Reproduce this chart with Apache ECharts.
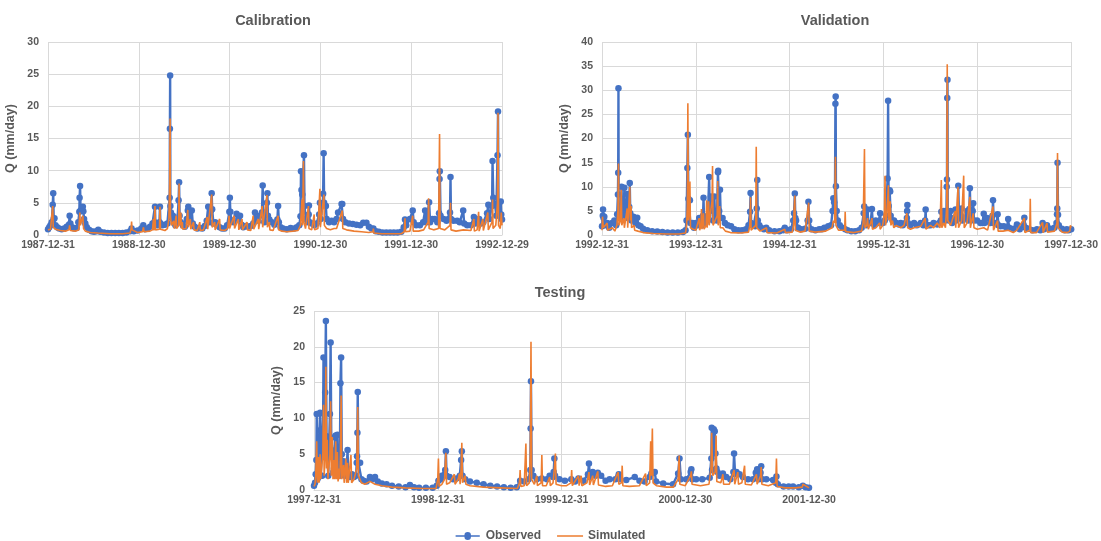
<!DOCTYPE html>
<html><head><meta charset="utf-8">
<script src="https://cdn.jsdelivr.net/npm/echarts@6/dist/echarts.min.js"></script>
<style>html,body{margin:0;padding:0;background:#fff}#c{width:1101px;height:541px}</style>
</head><body><div id="c"></div>
<script>
// Tick labels (one label every 365 days from the first day)
const calTicks = ["1987-12-31","1988-12-30","1989-12-30","1990-12-30","1991-12-30","1992-12-29"];
const valTicks = ["1992-12-31","1993-12-31","1994-12-31","1995-12-31","1996-12-30","1997-12-30"];
const tstTicks = ["1997-12-31","1998-12-31","1999-12-31","2000-12-30","2001-12-30"];

// [day index from first date, Q mm/day]
const calObs = [[0,0.9],[5,1.2],[10,1.5],[15,2.0],[19,4.7],[21,6.5],[23,2.5],[26,2.6],[30,1.5],[37,1.2],[45,1.0],[55,0.9],[65,1.0],[75,1.3],[84,1.6],[87,3.0],[90,1.8],[97,1.2],[105,1.0],[115,1.1],[122,2.0],[126,3.6],[127,5.8],[129,7.6],[131,3.8],[140,4.4],[142,3.7],[145,2.5],[150,1.8],[156,1.2],[165,0.8],[175,0.6],[185,0.5],[195,0.6],[202,0.8],[210,0.5],[225,0.4],[240,0.3],[255,0.3],[270,0.3],[285,0.3],[300,0.3],[315,0.4],[330,0.6],[336,1.0],[345,0.6],[360,0.7],[375,1.0],[383,1.5],[390,0.9],[400,1.0],[410,1.3],[420,1.8],[428,2.0],[430,4.4],[432,1.6],[440,1.5],[448,2.0],[450,4.4],[452,1.8],[460,1.5],[470,1.6],[480,1.8],[489,5.8],[490,16.5],[491,24.8],[492,4.5],[494,3.5],[498,2.6],[502,3.0],[507,2.2],[512,1.5],[520,2.0],[525,5.4],[527,8.2],[529,3.0],[534,2.0],[542,1.5],[550,1.3],[558,2.5],[562,3.8],[564,4.4],[568,2.4],[578,3.8],[582,1.8],[590,1.3],[600,1.0],[610,1.1],[620,1.0],[630,1.4],[638,2.2],[644,4.4],[648,2.0],[655,3.8],[658,6.5],[660,4.0],[665,1.8],[672,2.0],[680,1.5],[690,1.2],[700,1.0],[710,1.0],[720,1.5],[729,3.6],[731,5.8],[733,3.6],[737,2.2],[745,2.0],[758,3.3],[765,2.5],[772,3.0],[778,1.6],[785,1.2],[795,1.4],[805,1.3],[815,1.4],[825,1.8],[832,3.5],[838,2.5],[846,2.2],[852,3.0],[860,3.5],[863,7.7],[865,3.5],[870,2.0],[880,5.0],[882,6.5],[884,3.0],[890,2.4],[900,2.0],[910,1.6],[922,2.4],[925,4.5],[928,2.0],[935,1.2],[945,1.0],[960,0.9],[975,1.1],[990,1.0],[1000,1.2],[1010,1.5],[1015,2.9],[1017,9.9],[1019,7.0],[1022,6.3],[1029,12.4],[1031,4.5],[1036,2.5],[1045,2.0],[1048,3.2],[1049,4.6],[1052,2.0],[1060,1.8],[1070,1.5],[1080,1.8],[1090,3.2],[1093,5.0],[1096,2.5],[1104,4.7],[1106,6.4],[1108,12.7],[1110,5.0],[1117,4.5],[1120,2.5],[1130,2.0],[1140,2.2],[1150,2.0],[1160,2.5],[1166,3.5],[1180,4.8],[1183,4.8],[1186,2.5],[1195,2.0],[1210,1.8],[1225,1.7],[1240,1.6],[1255,1.5],[1267,1.9],[1280,1.9],[1290,1.3],[1300,1.0],[1308,1.0],[1318,0.6],[1330,0.5],[1345,0.4],[1360,0.4],[1375,0.4],[1390,0.4],[1405,0.4],[1420,0.5],[1430,1.2],[1435,2.4],[1440,1.5],[1455,2.5],[1466,3.8],[1470,2.0],[1480,1.5],[1495,1.5],[1508,2.0],[1516,3.8],[1522,2.0],[1532,5.1],[1536,2.0],[1545,2.5],[1555,2.5],[1565,2.0],[1572,3.4],[1574,8.7],[1575,9.9],[1578,3.0],[1590,2.5],[1602,2.2],[1610,2.5],[1616,3.5],[1618,9.0],[1620,2.5],[1630,2.2],[1645,2.2],[1655,2.0],[1669,3.8],[1673,1.8],[1685,1.5],[1700,1.5],[1712,2.8],[1718,1.8],[1733,2.5],[1740,1.8],[1750,2.0],[1765,3.4],[1770,4.7],[1774,2.5],[1785,4.5],[1787,11.5],[1790,5.8],[1797,4.7],[1802,3.0],[1807,12.4],[1809,19.2],[1811,4.5],[1816,3.0],[1820,5.2],[1822,3.2],[1825,2.4]];
const calSim = [[0,0.8],[10,0.9],[17,1.0],[19,4.5],[21,1.2],[30,0.9],[50,0.7],[70,0.6],[84,0.8],[87,1.5],[90,0.7],[110,0.6],[124,0.8],[128,3.5],[130,1.5],[140,3.0],[143,1.0],[150,0.6],[170,0.4],[200,0.3],[250,0.2],[300,0.2],[330,0.3],[334,1.0],[336,2.1],[338,0.8],[360,0.4],[380,0.5],[384,1.2],[386,0.5],[410,0.6],[420,0.8],[424,2.5],[426,0.7],[428,0.8],[430,4.5],[432,0.8],[448,0.9],[450,4.4],[452,0.9],[470,0.7],[480,1.0],[486,2.5],[489,8.0],[491,18.1],[492,3.0],[496,1.5],[505,2.2],[508,1.0],[515,3.0],[517,1.0],[525,1.5],[527,8.0],[529,1.5],[534,3.5],[536,1.0],[540,2.0],[542,0.9],[555,1.0],[562,3.9],[564,1.2],[572,2.5],[574,0.9],[585,2.0],[587,0.8],[600,0.7],[610,2.0],[612,0.7],[625,0.8],[640,2.8],[642,0.9],[658,6.3],[660,1.2],[670,2.0],[672,0.8],[690,2.5],[692,0.8],[710,0.7],[722,1.0],[728,3.0],[730,1.0],[748,3.0],[750,1.0],[765,2.5],[767,0.8],[780,2.5],[782,0.8],[800,2.0],[802,0.8],[815,0.7],[825,3.0],[827,0.9],[845,2.5],[847,0.9],[861,4.5],[863,1.2],[870,1.5],[880,6.2],[882,1.2],[890,2.0],[892,0.8],[905,0.7],[925,3.0],[927,0.8],[940,0.6],[960,0.5],[985,0.6],[1005,0.7],[1015,1.5],[1021,5.5],[1023,1.5],[1027,11.5],[1029,2.0],[1035,1.0],[1047,4.5],[1049,1.0],[1060,0.8],[1070,3.2],[1072,0.8],[1085,1.0],[1093,7.2],[1095,1.2],[1100,1.5],[1109,6.3],[1111,1.5],[1120,1.0],[1135,0.8],[1150,1.0],[1160,1.0],[1183,3.8],[1185,1.0],[1200,0.8],[1230,0.6],[1260,0.5],[1290,0.4],[1306,0.5],[1308,1.0],[1310,0.3],[1340,0.2],[1380,0.2],[1420,0.2],[1432,0.5],[1435,2.6],[1437,0.5],[1455,0.6],[1466,3.0],[1468,0.6],[1490,0.6],[1510,0.8],[1528,2.0],[1530,5.7],[1532,1.0],[1550,0.8],[1570,1.0],[1574,15.7],[1576,1.0],[1595,0.8],[1616,1.5],[1618,5.0],[1620,0.8],[1640,0.6],[1670,0.8],[1700,0.7],[1712,2.5],[1714,0.6],[1725,0.8],[1731,3.6],[1733,0.6],[1748,2.5],[1750,0.7],[1768,3.5],[1770,0.8],[1785,2.0],[1787,5.5],[1789,1.0],[1800,1.5],[1807,5.0],[1809,19.0],[1811,1.5],[1818,1.0],[1822,3.5],[1825,1.5]];

const valObs = [[0,1.8],[3,4.0],[4,5.3],[6,3.5],[9,3.8],[12,2.0],[20,2.5],[28,1.5],[39,2.5],[48,3.0],[55,2.0],[59,4.3],[62,8.4],[63,12.9],[64,30.4],[65,4.0],[70,3.5],[74,6.0],[76,10.0],[78,5.0],[85,5.7],[87,9.8],[89,4.0],[96,6.0],[98,8.5],[100,3.5],[106,5.8],[108,10.8],[110,4.5],[115,3.0],[122,3.8],[124,3.5],[130,2.5],[137,3.6],[142,2.0],[150,1.8],[160,1.3],[176,1.0],[195,0.8],[215,0.7],[235,0.6],[255,0.5],[275,0.5],[295,0.5],[315,0.6],[325,1.0],[329,3.0],[332,13.9],[334,20.8],[336,7.5],[342,7.2],[344,2.5],[352,2.5],[358,1.5],[365,2.5],[372,2.0],[378,3.5],[383,2.5],[390,2.0],[393,4.0],[395,7.7],[397,3.0],[402,2.5],[407,3.0],[412,4.0],[417,12.0],[419,5.0],[424,8.0],[427,7.5],[432,3.0],[437,8.0],[440,3.5],[447,3.0],[451,13.0],[452,13.3],[456,5.0],[459,9.4],[462,3.5],[469,3.5],[478,2.5],[489,2.0],[502,1.8],[515,1.2],[530,1.0],[545,1.0],[560,1.2],[570,2.0],[576,4.8],[578,8.7],[580,2.5],[590,2.0],[596,1.8],[602,5.5],[604,11.4],[606,3.0],[612,2.0],[619,1.5],[630,1.2],[639,1.5],[650,1.0],[671,0.8],[690,0.8],[705,1.0],[711,1.5],[720,1.0],[735,1.2],[744,3.0],[747,4.5],[750,8.6],[752,3.5],[755,3.0],[763,1.5],[775,1.2],[790,1.3],[800,3.0],[803,6.9],[806,3.0],[815,1.2],[830,1.0],[845,1.2],[855,1.2],[865,1.5],[880,1.8],[891,2.0],[897,5.0],[900,7.6],[903,6.8],[906,5.0],[908,27.2],[909,28.7],[910,10.1],[913,5.0],[917,3.0],[925,2.0],[935,1.5],[946,1.2],[955,1.0],[970,0.8],[985,0.8],[1000,1.0],[1010,1.5],[1018,4.5],[1020,5.9],[1022,2.5],[1028,2.0],[1033,5.3],[1036,2.5],[1045,2.5],[1050,5.4],[1053,2.5],[1060,2.0],[1065,3.0],[1075,2.5],[1082,4.5],[1085,2.5],[1092,2.5],[1100,3.0],[1105,4.0],[1111,11.7],[1113,27.8],[1115,6.0],[1119,9.3],[1121,9.0],[1123,4.0],[1130,3.0],[1136,3.0],[1145,2.5],[1155,2.2],[1162,2.5],[1170,2.0],[1180,2.5],[1186,3.5],[1187,5.0],[1188,6.2],[1190,2.5],[1200,2.0],[1214,2.5],[1225,2.0],[1240,2.5],[1250,2.0],[1257,3.0],[1259,5.3],[1261,2.0],[1270,2.0],[1278,2.0],[1290,2.5],[1304,2.2],[1312,2.5],[1318,3.0],[1320,4.8],[1323,3.0],[1330,5.0],[1335,3.0],[1340,5.0],[1341,10.0],[1342,11.5],[1343,28.4],[1344,32.2],[1345,5.0],[1350,3.0],[1356,5.0],[1362,2.5],[1370,3.5],[1375,5.3],[1378,3.0],[1384,5.0],[1386,10.2],[1389,3.5],[1396,4.0],[1399,5.5],[1402,3.0],[1410,3.5],[1421,5.0],[1425,3.0],[1429,5.4],[1431,9.7],[1434,3.5],[1442,5.0],[1444,6.6],[1447,3.0],[1459,3.0],[1472,2.5],[1480,2.5],[1485,4.4],[1488,2.5],[1498,3.5],[1510,2.5],[1519,4.0],[1521,7.2],[1524,2.5],[1535,2.5],[1539,4.3],[1542,2.0],[1550,1.8],[1563,1.8],[1575,1.5],[1580,3.3],[1584,1.5],[1601,1.3],[1614,2.2],[1625,1.2],[1640,2.0],[1643,3.6],[1648,1.5],[1660,1.3],[1675,1.0],[1692,1.2],[1705,1.0],[1714,2.5],[1720,1.2],[1731,2.0],[1745,1.3],[1760,1.5],[1768,2.5],[1770,4.3],[1771,5.5],[1772,15.0],[1774,4.2],[1777,2.0],[1789,1.3],[1800,1.0],[1808,1.2],[1815,1.0],[1825,1.2]];
const valSim = [[0,1.0],[2,3.8],[5,1.5],[10,1.2],[20,2.5],[22,1.0],[40,1.5],[50,0.8],[58,2.0],[62,5.0],[64,14.8],[66,2.0],[72,3.0],[75,9.4],[77,2.0],[85,3.5],[87,1.5],[98,5.5],[100,1.5],[108,10.0],[110,3.0],[113,6.0],[115,1.5],[125,2.0],[127,1.0],[140,0.8],[160,0.5],[200,0.3],[250,0.2],[300,0.2],[325,0.4],[329,2.0],[332,6.0],[334,27.3],[336,3.0],[339,5.0],[342,11.1],[344,1.5],[355,1.2],[365,1.0],[378,3.5],[380,1.0],[385,2.0],[387,5.4],[389,1.2],[395,4.5],[397,1.2],[405,2.0],[407,7.2],[409,1.5],[415,7.0],[417,2.0],[423,5.0],[428,7.0],[430,14.3],[432,2.0],[440,3.0],[448,4.0],[450,11.2],[452,2.0],[458,6.0],[460,1.5],[470,1.5],[480,0.8],[500,0.5],[540,0.4],[570,0.6],[575,2.0],[578,7.8],[580,1.0],[598,2.0],[600,18.3],[602,1.5],[615,0.8],[640,1.5],[642,0.5],[680,0.4],[711,1.2],[713,0.5],[740,0.6],[745,2.0],[747,4.7],[750,8.2],[752,1.0],[770,0.6],[790,0.8],[804,6.7],[806,0.8],[830,0.6],[870,0.8],[895,1.5],[900,3.0],[905,2.5],[908,16.2],[910,2.0],[920,1.0],[944,1.0],[946,4.8],[948,0.7],[980,0.5],[1010,0.8],[1016,2.5],[1021,17.8],[1023,1.5],[1030,2.0],[1033,3.5],[1036,1.2],[1045,2.5],[1050,3.5],[1052,1.2],[1065,1.5],[1080,2.5],[1082,1.2],[1092,2.0],[1099,5.0],[1101,12.3],[1103,2.0],[1108,4.0],[1114,10.3],[1116,3.0],[1121,7.0],[1124,2.0],[1130,3.0],[1135,1.5],[1145,2.0],[1162,1.5],[1175,2.0],[1186,4.5],[1189,1.5],[1200,1.2],[1214,1.5],[1240,1.8],[1257,3.5],[1260,1.2],[1278,2.0],[1290,1.5],[1304,2.5],[1315,1.5],[1320,11.4],[1322,1.5],[1330,2.5],[1336,1.5],[1341,6.0],[1343,35.4],[1345,3.0],[1356,2.0],[1374,5.0],[1376,1.5],[1385,10.0],[1387,1.5],[1399,3.0],[1407,12.3],[1409,1.5],[1420,2.5],[1431,7.9],[1433,1.5],[1444,4.5],[1447,1.5],[1460,1.2],[1485,1.5],[1500,1.0],[1521,5.9],[1523,1.0],[1539,3.0],[1541,0.8],[1560,0.8],[1580,1.0],[1600,0.5],[1614,1.0],[1643,3.5],[1645,0.5],[1664,1.0],[1666,7.5],[1668,0.5],[1690,0.5],[1714,2.6],[1716,0.5],[1731,2.5],[1733,0.6],[1760,0.8],[1770,2.5],[1772,17.0],[1774,1.5],[1790,0.6],[1810,0.5],[1820,0.8],[1822,2.0],[1825,1.5]];

const tstObs = [[0,0.6],[3,1.0],[5,2.2],[7,4.2],[8,10.6],[10,1.5],[13,1.8],[16,8.3],[18,10.8],[20,2.0],[24,2.0],[27,10.7],[28,18.5],[30,5.5],[33,13.6],[35,23.6],[37,7.5],[39,6.5],[42,2.0],[47,10.6],[49,20.6],[51,7.3],[54,5.5],[57,2.5],[59,3.0],[62,7.4],[64,7.6],[67,3.0],[69,7.7],[71,3.0],[74,4.5],[76,2.0],[78,14.9],[80,18.5],[82,5.0],[85,2.5],[87,4.0],[91,2.0],[96,2.5],[99,5.6],[101,2.0],[106,1.8],[112,2.2],[118,1.8],[124,2.0],[126,3.8],[127,4.7],[128,8.0],[129,13.7],[131,3.8],[136,3.8],[140,1.5],[146,1.3],[155,1.2],[165,1.8],[172,1.5],[180,1.8],[188,1.2],[200,0.9],[214,0.8],[230,0.6],[250,0.5],[270,0.4],[283,0.7],[295,0.4],[310,0.3],[330,0.3],[350,0.3],[362,0.6],[367,1.3],[374,1.5],[377,2.0],[386,2.2],[387,2.8],[389,5.4],[391,2.0],[400,1.8],[410,1.5],[420,1.6],[430,2.0],[434,4.2],[436,5.4],[438,2.0],[446,1.5],[460,1.2],[480,1.0],[500,0.8],[520,0.6],[540,0.5],[560,0.4],[580,0.3],[598,0.4],[608,1.3],[620,1.2],[633,1.5],[638,2.8],[639,8.6],[640,15.2],[642,2.8],[647,2.0],[657,1.5],[672,1.6],[687,1.5],[695,2.0],[705,1.8],[707,2.5],[709,4.4],[711,2.0],[724,1.5],[740,1.3],[759,1.5],[770,1.2],[780,1.6],[795,1.3],[808,2.2],[811,3.7],[814,1.8],[822,2.5],[830,2.0],[837,2.4],[847,2.0],[860,1.3],[872,1.5],[889,1.5],[897,1.8],[899,2.2],[903,1.5],[921,1.4],[946,1.8],[960,1.3],[975,1.2],[990,1.8],[995,2.3],[1005,2.5],[1009,1.2],[1030,0.9],[1059,0.8],[1074,2.3],[1078,4.4],[1082,1.5],[1098,1.5],[1111,2.5],[1113,2.9],[1116,1.5],[1127,1.5],[1145,1.5],[1167,1.7],[1172,4.4],[1173,8.7],[1174,2.8],[1179,8.5],[1182,8.2],[1184,5.1],[1187,3.0],[1190,2.5],[1196,2.0],[1206,2.3],[1216,1.8],[1228,1.5],[1237,2.5],[1239,5.1],[1242,2.2],[1246,2.5],[1255,2.2],[1265,1.8],[1280,1.5],[1295,1.5],[1303,2.4],[1307,2.9],[1312,1.5],[1317,2.4],[1319,3.3],[1322,1.5],[1334,1.5],[1354,1.4],[1362,1.0],[1364,1.9],[1368,0.8],[1385,0.5],[1400,0.5],[1413,0.5],[1430,0.4],[1442,0.6],[1450,0.4],[1460,0.3]];
const tstSim = [[0,0.5],[3,0.8],[5,2.0],[8,6.8],[10,1.0],[13,4.6],[15,1.0],[18,5.0],[20,1.5],[26,5.0],[28,11.9],[30,2.0],[33,5.0],[35,17.2],[37,3.0],[39,7.0],[41,1.5],[47,5.0],[49,12.4],[51,2.0],[54,7.4],[56,1.5],[59,4.2],[61,1.5],[64,6.8],[66,1.5],[69,5.3],[71,1.2],[74,3.0],[76,1.5],[78,5.0],[80,13.2],[82,1.5],[87,3.5],[89,1.0],[94,4.4],[96,1.0],[99,3.8],[101,1.0],[109,4.9],[111,1.0],[118,1.5],[126,3.0],[129,11.6],[131,2.0],[136,2.0],[140,1.0],[150,0.8],[165,1.2],[180,0.8],[200,0.6],[230,0.4],[270,0.3],[320,0.2],[360,0.2],[365,1.5],[367,4.4],[369,0.5],[377,0.8],[385,1.5],[389,5.2],[391,0.8],[400,1.0],[414,2.2],[416,0.8],[425,1.5],[429,2.3],[431,0.8],[434,3.0],[436,6.6],[438,1.0],[446,2.0],[448,0.8],[460,0.6],[500,0.4],[550,0.3],[600,0.2],[606,1.0],[608,2.8],[610,0.5],[620,0.6],[625,6.5],[627,0.6],[635,1.0],[638,5.0],[640,20.7],[642,1.5],[650,0.8],[657,2.0],[659,0.6],[670,1.0],[672,4.9],[674,0.6],[685,0.6],[695,1.8],[697,0.6],[705,1.0],[709,3.0],[712,5.1],[714,0.8],[730,0.6],[745,0.6],[758,1.0],[760,2.8],[762,0.6],[780,2.0],[782,0.6],[788,2.0],[790,0.6],[805,1.0],[811,2.5],[813,0.7],[822,2.0],[824,0.7],[837,2.6],[839,0.7],[860,0.5],[880,0.6],[897,2.5],[899,0.8],[907,1.0],[909,3.4],[911,0.6],[930,0.5],[960,0.6],[978,2.3],[980,0.6],[990,1.0],[993,6.8],[995,2.0],[998,8.6],[1000,1.0],[1010,0.6],[1040,0.4],[1060,0.4],[1074,1.5],[1077,4.8],[1079,0.8],[1095,0.6],[1111,2.0],[1113,2.6],[1115,0.8],[1140,0.6],[1165,0.8],[1171,3.0],[1173,8.0],[1176,2.0],[1183,2.5],[1186,7.6],[1188,1.2],[1200,1.0],[1206,2.2],[1208,0.8],[1225,0.8],[1239,2.8],[1241,0.8],[1250,2.5],[1252,0.8],[1262,1.0],[1270,3.4],[1272,0.8],[1290,0.7],[1305,2.2],[1307,0.8],[1317,2.0],[1319,3.2],[1321,0.8],[1340,0.6],[1362,1.0],[1364,4.4],[1366,0.5],[1390,0.3],[1420,0.3],[1440,0.4],[1442,0.8],[1460,0.3]];

const titles = ["Calibration","Validation","Testing"];
const yName = "Q (mm/day)";

const TXT = '#595959', GRID = '#D9D9D9', BLUE = '#4472C4', ORANGE = '#ED7D31';
const FONT = 'Liberation Sans, Arial, sans-serif';

const chart = echarts.init(document.getElementById('c'), null, {renderer: 'canvas'});

function xAx(i, ticks) {
  return {
    type: 'value', gridIndex: i, min: 0, max: 365 * (ticks.length - 1), interval: 365,
    axisLine: {show: true, lineStyle: {color: GRID}}, axisTick: {show: false},
    splitLine: {show: true, lineStyle: {color: GRID, width: 1}},
    axisLabel: {color: TXT, fontSize: 10.5, fontWeight: 'bold', fontFamily: FONT, margin: 5,
      formatter: v => ticks[Math.round(v / 365)] || ''}
  };
}
function yAx(i, max) {
  return {
    type: 'value', gridIndex: i, min: 0, max: max, interval: 5,
    name: yName, nameLocation: 'middle', nameGap: 31, nameRotate: 90,
    nameTextStyle: {color: TXT, fontSize: 12.5, fontWeight: 'bold', fontFamily: FONT},
    axisLine: {show: false}, axisTick: {show: false},
    splitLine: {show: true, lineStyle: {color: GRID, width: 1}},
    axisLabel: {color: TXT, fontSize: 10.5, fontWeight: 'bold', fontFamily: FONT, margin: 9}
  };
}
function obsS(i, data) {
  return {name: 'Observed', type: 'line', xAxisIndex: i, yAxisIndex: i, data: data,
    showSymbol: true, showAllSymbol: true, symbol: 'circle', symbolSize: 6.5,
    itemStyle: {color: BLUE}, lineStyle: {color: BLUE, width: 2.4}, z: 2, animation: false};
}
function simS(i, data) {
  return {name: 'Simulated', type: 'line', xAxisIndex: i, yAxisIndex: i, data: data,
    showSymbol: false, symbol: 'none', itemStyle: {color: ORANGE},
    lineStyle: {color: ORANGE, width: 1.6}, z: 3, animation: false};
}
const tStyle = {color: TXT, fontSize: 14.5, fontWeight: 'bold', fontFamily: FONT};

// legend glyphs: line with a dot, and a plain line (26 x 8 box)
const iconObs = 'path://M0,3.2H9.5A3.5,3.5 0 0 1 16.5,3.2H26V4.8H16.5A3.5,3.5 0 0 1 9.5,4.8H0Z';
const iconSim = 'path://M0,0L0.01,0M0,3.2H26V4.8H0ZM26,8L25.99,8';

chart.setOption({
  animation: false,
  backgroundColor: '#fff',
  title: [
    {text: titles[0], left: 268, top: 8, textAlign: 'center', textStyle: tStyle},
    {text: titles[1], left: 830, top: 8, textAlign: 'center', textStyle: tStyle},
    {text: titles[2], left: 555, top: 280, textAlign: 'center', textStyle: tStyle}
  ],
  legend: {
    data: [{name: 'Observed', icon: iconObs}, {name: 'Simulated', icon: iconSim}],
    top: 525, left: 'center', itemWidth: 26, itemHeight: 8, itemGap: 16,
    textStyle: {color: TXT, fontSize: 12, fontWeight: 'bold', fontFamily: FONT}
  },
  grid: [
    {left: 48, top: 42, width: 454, height: 193},
    {left: 602, top: 42, width: 471, height: 193},
    {left: 314, top: 311, width: 495, height: 179}
  ],
  xAxis: [xAx(0, calTicks), xAx(1, valTicks), xAx(2, tstTicks)],
  yAxis: [yAx(0, 30), yAx(1, 40), yAx(2, 25)],
  series: [obsS(0, calObs), simS(0, calSim), obsS(1, valObs), simS(1, valSim), obsS(2, tstObs), simS(2, tstSim)]
});
</script></body></html>
